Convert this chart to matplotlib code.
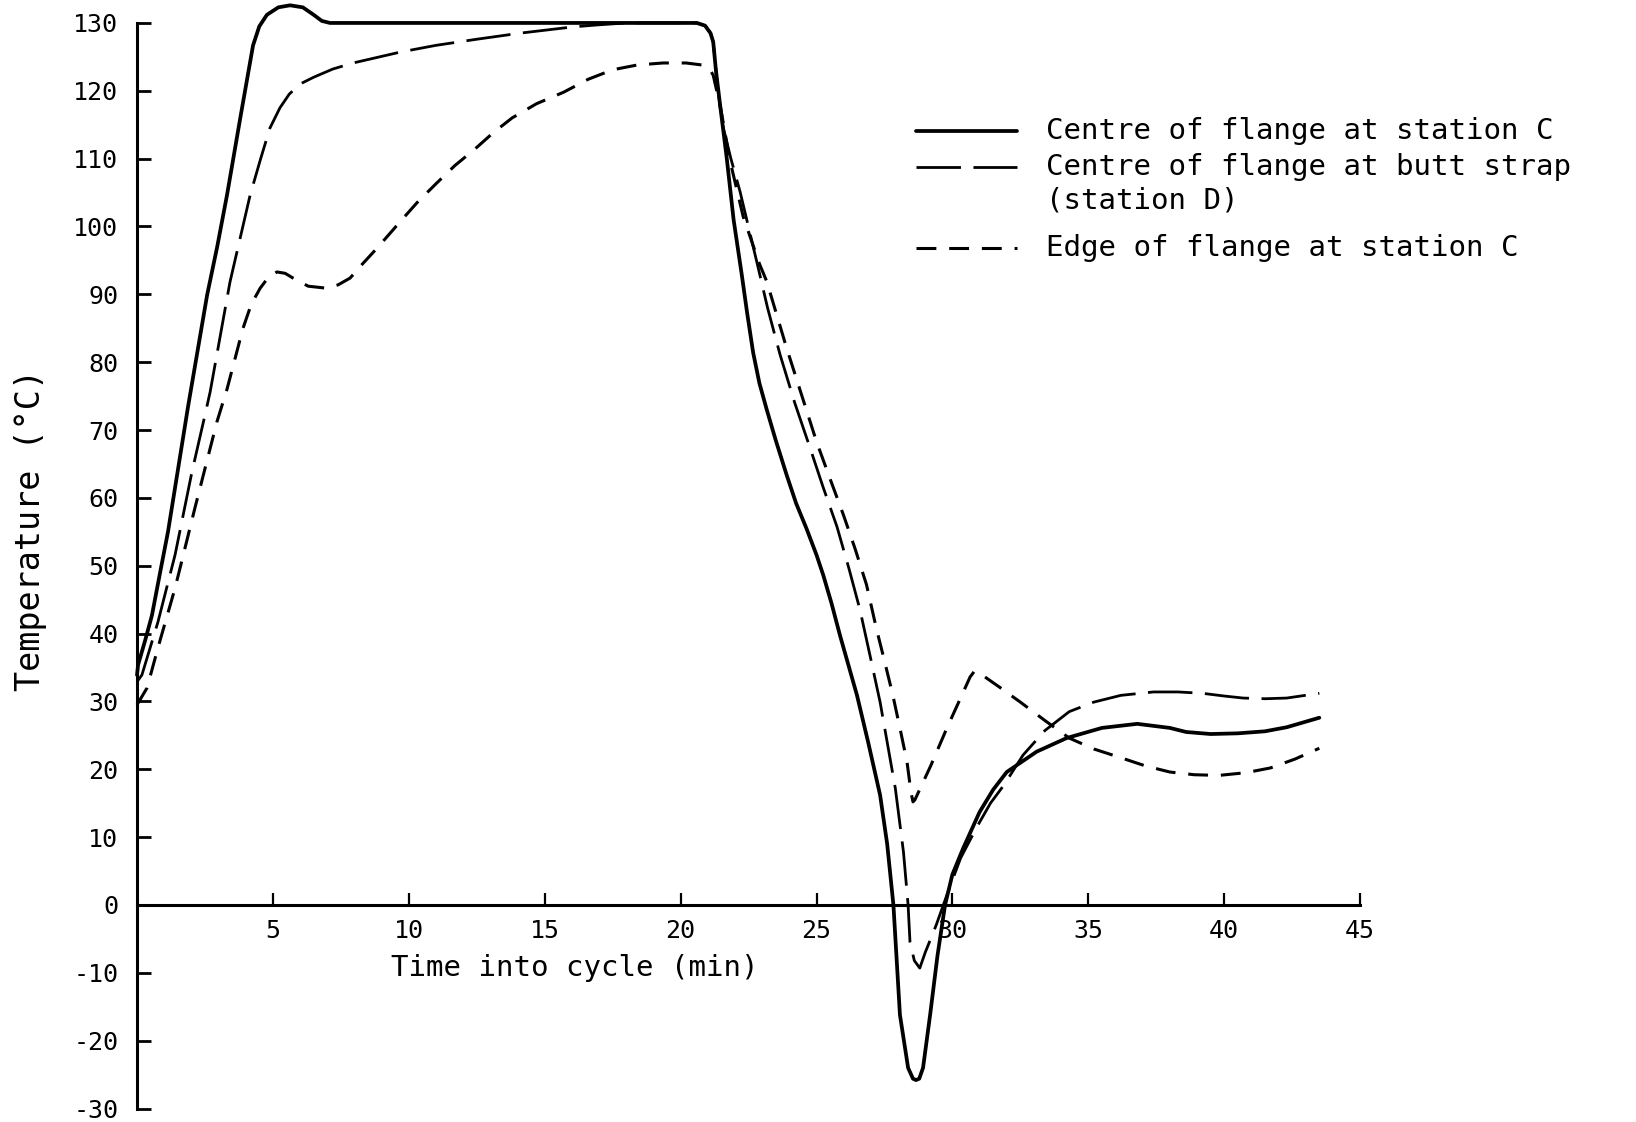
import matplotlib
matplotlib.use("Agg")
import matplotlib.pyplot as plt
from matplotlib.lines import Line2D

plt.rcParams['font.family'] = ['DejaVu Sans Mono', 'DejaVu Sans']
plt.rcParams['axes.unicode_minus'] = False

# ---------------- data ----------------
# Centre of flange at station C (solid)
t_c = [0.0, 0.04, 0.3, 0.55, 0.85, 1.14, 1.5, 1.88, 2.2, 2.58, 2.95, 3.31, 3.8, 4.27,
       4.5, 4.78, 5.2, 5.63, 6.1, 6.5, 6.8, 7.1, 10.0, 15.0, 20.6, 20.9, 21.1, 21.2,
       21.3, 21.45, 21.7, 21.95, 22.25, 22.45, 22.67, 22.9, 23.17, 23.5, 23.9, 24.25,
       24.63, 25.0, 25.25, 25.55, 25.86, 26.2, 26.49, 26.9, 27.34, 27.6, 27.83, 28.07,
       28.37, 28.55, 28.66, 28.78, 28.92, 29.18, 29.45, 29.73, 30.0, 30.4, 31.0, 31.5,
       32.0, 33.1, 34.2, 35.5, 36.8, 38.0, 38.6, 39.5, 40.5, 41.5, 42.3, 43.5]
T_c = [33.9, 35.4, 39.0, 42.7, 49.0, 55.0, 64.0, 73.5, 81.0, 89.9, 97.0, 104.6, 116.0, 126.7,
       129.5, 131.2, 132.3, 132.6, 132.3, 131.2, 130.3, 130.0, 130.0, 130.0, 130.0, 129.6, 128.5, 127.2,
       123.0, 118.0, 110.0, 101.0, 92.9, 87.2, 81.4, 76.9, 73.0, 68.5, 63.4, 59.2,
       55.5, 51.6, 48.6, 44.5, 39.8, 35.0, 30.9, 24.0, 16.2, 9.0, 0.0, -16.2,
       -24.0, -25.6, -25.8, -25.6, -24.0, -16.2, -7.5, 0.0, 4.5, 8.4, 13.7, 17.0,
       19.6, 22.6, 24.6, 26.1, 26.7, 26.1, 25.5, 25.2, 25.3, 25.6, 26.2, 27.6]

# Centre of flange at butt strap (station D) (long dashes)
t_d = [0.0, 0.18, 0.77, 1.4, 2.02, 2.5, 2.69, 3.42, 4.16, 4.55, 4.89, 5.26, 5.6, 6.0,
       6.5, 7.2, 7.95, 9.68, 11.0, 12.5, 14.1, 16.0, 16.9, 18.0, 20.6, 20.9, 21.1, 21.2,
       21.35, 21.52, 21.85, 22.19, 22.85, 23.2, 23.66, 24.2, 24.76, 25.25, 25.75, 26.2,
       26.6, 27.0, 27.34, 27.9, 28.2, 28.37, 28.44, 28.6, 28.8, 29.0, 29.4, 29.8,
       30.3, 30.9, 31.4, 31.9, 32.6, 33.4, 34.3, 35.2, 36.2, 37.4, 38.3, 39.2,
       40.0, 40.7, 41.5, 42.3, 43.5]
T_d = [32.9, 33.9, 41.7, 51.6, 63.8, 72.2, 75.6, 91.8, 104.6, 110.0, 114.5, 117.5, 119.5, 121.0,
       122.0, 123.2, 124.1, 125.7, 126.7, 127.6, 128.5, 129.4, 129.7, 130.0, 130.0, 129.6, 128.5, 127.2,
       121.0, 115.4, 110.0, 105.1, 94.0, 88.0, 81.1, 74.0, 67.4, 61.5, 55.8, 49.5,
       43.5, 36.2, 29.9, 17.2, 7.8, 0.0, -5.5, -8.2, -9.3, -7.0, -3.0, 1.5,
       6.9, 11.5, 15.0, 17.7, 22.1, 25.7, 28.5, 29.9, 30.9, 31.4, 31.4, 31.2,
       30.8, 30.5, 30.4, 30.5, 31.2]

# Edge of flange at station C (short dashes)
t_e = [0.0, 0.37, 0.77, 1.4, 2.13, 2.94, 3.31, 3.9, 4.2, 4.53, 4.85, 5.15, 5.45, 5.74,
       6.3, 6.99, 7.4, 7.84, 8.3, 8.83, 9.68, 10.3, 11.0, 11.7, 12.4, 13.1, 13.8, 14.7,
       15.7, 16.6, 17.5, 18.4, 19.35, 20.2, 20.8, 21.05, 21.2, 21.3, 21.45, 21.8,
       22.3, 22.9, 23.17, 23.9, 24.45, 25.0, 25.5, 25.99, 26.42, 26.84, 27.2, 27.5,
       27.81, 28.1, 28.33, 28.48, 28.55, 28.62, 29.2, 29.8, 30.3, 30.65, 30.8, 30.95,
       31.7, 32.5, 33.4, 34.3, 35.2, 36.2, 37.1, 38.0, 38.9, 39.8, 40.8, 41.7, 42.6, 43.5]
T_e = [29.5, 32.0, 37.9, 46.7, 58.5, 71.2, 76.0, 85.0, 88.5, 90.9, 92.6, 93.3, 93.1, 92.4,
       91.2, 90.9, 91.4, 92.4, 94.5, 96.8, 100.7, 103.5, 106.3, 109.0, 111.3, 113.8, 116.0, 118.1,
       119.8, 121.7, 123.1, 123.8, 124.1, 124.1, 123.8, 123.3, 122.3, 120.5, 118.0, 110.0,
       101.5, 94.5, 91.9, 82.1, 75.2, 68.3, 62.8, 57.5, 52.5, 47.2, 40.8, 36.0,
       30.9, 25.5, 21.1, 16.5, 15.2, 15.5, 20.5, 26.1, 30.5, 33.6, 34.4, 34.3,
       32.2, 29.9, 27.2, 24.6, 23.0, 21.7, 20.5, 19.6, 19.2, 19.1, 19.5, 20.2, 21.5, 23.1]

labels = ["Centre of flange at station C",
          "Centre of flange at butt strap\n(station D)",
          "Edge of flange at station C"]
x_ticks = [5, 10, 15, 20, 25, 30, 35, 40, 45]
y_ticks = list(range(-30, 131, 10))

# ---------------- figure ----------------
W, H = 1636, 1122
fig = plt.figure(figsize=(W / 100, H / 100), dpi=100)
y0 = 905
ax_left, ax_right = 137, 137 + 47 * 27.18
ax_top, ax_bot = y0 - 134 * 6.785, y0 + 31 * 6.785
ax = fig.add_axes([ax_left / W, 1 - ax_bot / H, (ax_right - ax_left) / W, (ax_bot - ax_top) / H])
ax.set_xlim(0, 47)
ax.set_ylim(-31, 134)

styles = [dict(lw=2.7, linestyle='-', solid_capstyle='round', solid_joinstyle='round'),
          dict(lw=2.0, dashes=(16, 4.5)),
          dict(lw=2.2, dashes=(6.5, 4.2))]
for (tt, TT), st in zip([(t_c, T_c), (t_d, T_d), (t_e, T_e)], styles):
    ax.plot(tt, TT, color='black', clip_on=False, **st)

for s in ['top', 'right']:
    ax.spines[s].set_visible(False)
ax.spines['left'].set_position(('data', 0))
ax.spines['left'].set_bounds(-30, 130)
ax.spines['bottom'].set_position(('data', 0))
ax.spines['bottom'].set_bounds(0, 45)
for s in ['left', 'bottom']:
    ax.spines[s].set_linewidth(2.2)

ax.set_xticks(x_ticks)
ax.set_yticks(y_ticks)
ax.tick_params(axis='y', direction='in', length=10, width=2, pad=13.5, labelsize=18)
ax.tick_params(axis='x', direction='in', length=8.5, width=1.6, pad=10, labelsize=18)

ax.set_xlabel("Time into cycle (min)", fontsize=21, va='center', ha='center')
ax.xaxis.set_label_coords((575 - ax_left) / (ax_right - ax_left), (ax_bot - 968) / (ax_bot - ax_top))
ax.set_ylabel("Temperature (°C)", fontsize=24, va='center', ha='center')
ax.yaxis.set_label_coords((31 - ax_left) / (ax_right - ax_left), (ax_bot - 530) / (ax_bot - ax_top))

# ---------------- legend (manual, to match the original layout) ----------------
rows_y = [131, 167, 248]
for st, y in zip(styles, rows_y):
    fig.add_artist(Line2D([916 / W, 1017 / W], [1 - y / H, 1 - y / H],
                          transform=fig.transFigure, color='black', **st))
fig.text(1046 / W, 1 - 131 / H, labels[0], fontsize=21, ha='left', va='center')
fig.text(1046 / W, 1 - 167 / H, labels[1].split('\n')[0], fontsize=21, ha='left', va='center')
fig.text(1046 / W, 1 - 201 / H, labels[1].split('\n')[1], fontsize=21, ha='left', va='center')
fig.text(1046 / W, 1 - 248 / H, labels[2], fontsize=21, ha='left', va='center')

fig.savefig("out.png", dpi=100)
